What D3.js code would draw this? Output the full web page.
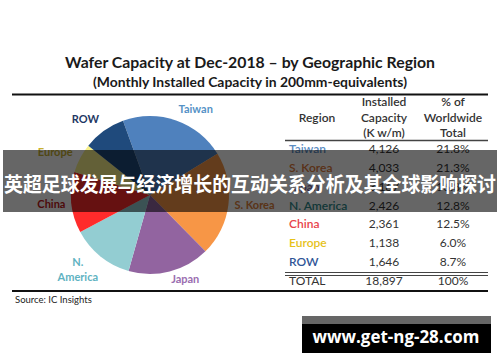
<!DOCTYPE html>
<html><head><meta charset="utf-8">
<script src="https://cdn.jsdelivr.net/npm/d3@7"></script>
<style>
html,body{margin:0;padding:0;background:#fff;}
svg{display:block;}
</style></head>
<body>
<script>
// ---- data ----
const regions = ["Taiwan", "S. Korea", "Japan", "N. America", "China", "Europe", "ROW"];
const capacity = [4126, 4033, 3167, 2426, 2361, 1138, 1646];
const shareLabels = ["21.8%", "21.3%", "16.8%", "12.8%", "12.5%", "6.0%", "8.7%"];
const capacityLabels = ["4,126", "4,033", "3,167", "2,426", "2,361", "1,138", "1,646"];
const totalLabel = ["TOTAL", "18,897", "100%"];
const pieLabelLines = [["Taiwan"], ["S. Korea"], ["Japan"], ["N.", "America"], ["China"], ["Europe"], ["ROW"]];
const headerRegion = ["Region"];
const headerCapacity = ["Installed", "Capacity", "(K w/m)"];
const headerShare = ["% of", "Worldwide", "Total"];
const titleText = "Wafer Capacity at Dec-2018 \u2013 by Geographic Region";
const subtitleText = "(Monthly Installed Capacity in 200mm-equivalents)";
const sourceText = "Source:  IC Insights";
const bannerText = "英超足球发展与经济增长的互动关系分析及其全球影响探讨";
const watermarkText = "www.get-ng-28.com";

// ---- styles / layout ----
const sliceColors = ["#4f81bd", "#f79646", "#9264a0", "#93cdd2", "#ff2b2b", "#f7f08a", "#1f4a7c"];
const pieLabelColors = ["#5592c6", "#e0823c", "#9a6db0", "#5fb3c2", "#c01818", "#c8b030", "#1f3864"];
const tableLabelColors = ["#5b8cc2", "#e07a3a", "#8064a2", "#2e8a8a", "#e8424a", "#e6c21a", "#2f5597"];
const labelNudgeDeg = [8.8, -1.5, -8.4, 5.1, 0.5, -3.6, -4.5];
const labelRadius = [97, 105, 91, 104, 99, 104, 100];
const FONT = "Lato, 'Open Sans', sans-serif";

const W = 500, H = 362;
const svg = d3.select("body").append("svg").attr("width", W).attr("height", H)
  .style("font-family", FONT);

// titles
svg.append("text").attr("x", 250).attr("y", 68).attr("text-anchor", "middle")
  .attr("font-size", 16).attr("font-weight", 700).attr("fill", "#1a1a1a")
  .attr("textLength", 370).attr("lengthAdjust", "spacingAndGlyphs").text(titleText);
svg.append("text").attr("x", 250).attr("y", 87).attr("text-anchor", "middle")
  .attr("font-size", 13.5).attr("font-weight", 700).attr("fill", "#1a1a1a")
  .attr("textLength", 314).attr("lengthAdjust", "spacingAndGlyphs").text(subtitleText);

// rules
svg.append("line").attr("x1", 12).attr("x2", 488).attr("y1", 94.5).attr("y2", 94.5)
  .attr("stroke", "#111").attr("stroke-width", 2);
svg.append("line").attr("x1", 12).attr("x2", 488).attr("y1", 291).attr("y2", 291)
  .attr("stroke", "#111").attr("stroke-width", 2);
svg.append("text").attr("x", 15).attr("y", 303).attr("font-size", 9.5).attr("fill", "#222")
  .text(sourceText);

// pie
const cx = 150, cy = 195, R = 79;
const pie = d3.pie().sort(null).value(d => d)
  .startAngle(-20 * Math.PI / 180).endAngle(340 * Math.PI / 180);
const arcs = pie(capacity);
const arc = d3.arc().innerRadius(0).outerRadius(R);
const g = svg.append("g").attr("transform", `translate(${cx},${cy})`);
g.selectAll("path").data(arcs).join("path")
  .attr("d", arc).attr("fill", (d, i) => sliceColors[i]);

arcs.forEach((d, i) => {
  const a = (d.startAngle + d.endAngle) / 2 + labelNudgeDeg[i] * Math.PI / 180;
  const x = Math.sin(a) * labelRadius[i], y = -Math.cos(a) * labelRadius[i];
  const lines = pieLabelLines[i];
  const t = g.append("text").attr("text-anchor", "middle")
    .attr("font-size", 11).attr("font-weight", 700).attr("fill", pieLabelColors[i]);
  lines.forEach((ln, k) => {
    t.append("tspan").attr("x", x)
      .attr("y", y + 4 + (k - (lines.length - 1) / 2) * 15).text(ln);
  });
});

// table
const colRegion = 289, colCap = 384, colShare = 453;
const rowY = d3.scaleLinear().domain([0, regions.length - 1]).range([153, 266]);
const hdrY = d3.scaleLinear().domain([0, 2]).range([106, 137]);
const tg = svg.append("g").attr("font-size", 12);
headerCapacity.forEach((h, k) => tg.append("text").attr("x", colCap).attr("y", hdrY(k))
  .attr("text-anchor", "middle").attr("font-weight", 600).attr("fill", "#333").text(h));
headerShare.forEach((h, k) => tg.append("text").attr("x", colShare).attr("y", hdrY(k))
  .attr("text-anchor", "middle").attr("font-weight", 600).attr("fill", "#333").text(h));
tg.append("text").attr("x", 317).attr("y", hdrY(1)).attr("text-anchor", "middle")
  .attr("font-weight", 600).attr("fill", "#333").text(headerRegion[0]);
tg.append("line").attr("x1", 285).attr("x2", 488).attr("y1", 140.5).attr("y2", 140.5)
  .attr("stroke", "#444").attr("stroke-width", 1.5);

regions.forEach((r, i) => {
  tg.append("text").attr("x", colRegion).attr("y", rowY(i)).attr("font-weight", 600)
    .attr("fill", tableLabelColors[i]).text(r);
  tg.append("text").attr("x", colCap).attr("y", rowY(i)).attr("text-anchor", "middle")
    .attr("fill", "#333").text(capacityLabels[i]);
  tg.append("text").attr("x", colShare).attr("y", rowY(i)).attr("text-anchor", "middle")
    .attr("fill", "#333").text(shareLabels[i]);
});
[272, 275].forEach(y => tg.append("line").attr("x1", 285).attr("x2", 488)
  .attr("y1", y + 0.5).attr("y2", y + 0.5).attr("stroke", "#444").attr("stroke-width", 1));
tg.append("text").attr("x", colRegion).attr("y", 285).attr("fill", "#333").text(totalLabel[0]);
tg.append("text").attr("x", colCap).attr("y", 285).attr("text-anchor", "middle").attr("fill", "#333").text(totalLabel[1]);
tg.append("text").attr("x", colShare).attr("y", 285).attr("text-anchor", "middle").attr("fill", "#333").text(totalLabel[2]);

// overlay banner
svg.append("rect").attr("x", 3).attr("y", 150).attr("width", 494).attr("height", 62)
  .attr("fill", "#000").attr("fill-opacity", 0.6);
svg.append("text").attr("x", 250).attr("y", 192).attr("text-anchor", "middle")
  .attr("font-family", "'Noto Sans CJK SC', sans-serif").attr("font-size", 20)
  .attr("font-weight", 700).attr("fill", "#fff")
  .attr("textLength", 492).attr("lengthAdjust", "spacingAndGlyphs").text(bannerText);

// watermark
svg.append("rect").attr("x", 302).attr("y", 316).attr("width", 189).attr("height", 37).attr("fill", "#000");
svg.append("rect").attr("x", 302).attr("y", 316).attr("width", 189).attr("height", 8).attr("fill", "#666");
svg.append("text").attr("x", 396).attr("y", 343).attr("text-anchor", "middle")
  .attr("font-family", "'Open Sans', sans-serif").attr("font-size", 18).attr("font-weight", 700)
  .attr("fill", "#fff").attr("textLength", 167).attr("lengthAdjust", "spacingAndGlyphs")
  .text(watermarkText);
</script>
</body></html>
